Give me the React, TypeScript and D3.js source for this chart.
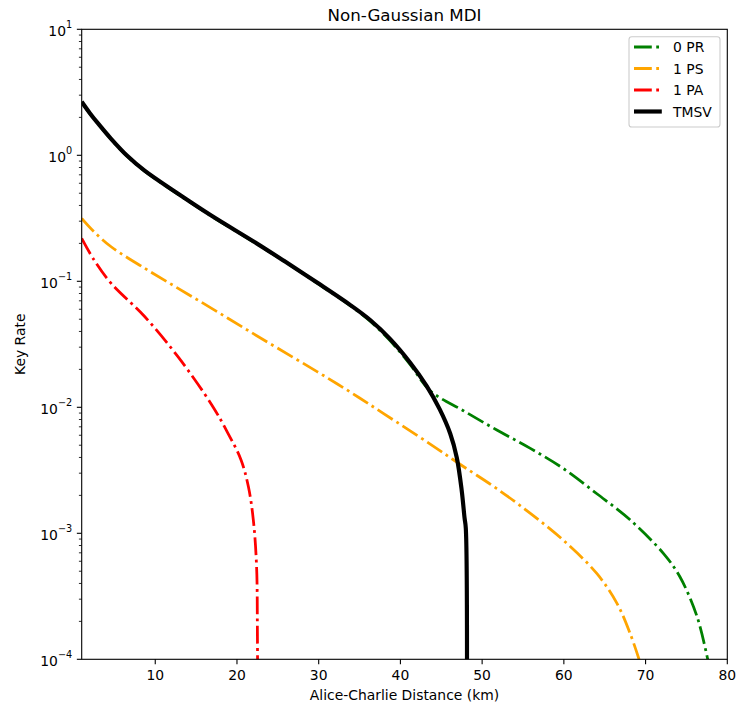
import React from "react";
import * as d3 from "d3";

// ---- data ----
const prDist = [1, 2, 3, 4.6, 6.5, 8.7, 12.8, 16.9, 22.2, 25.7, 29.8, 33.8, 36.3, 38.7, 41.2, 43.6, 47.7, 51.8, 55.9, 59.9, 64.0, 68.1, 72.2, 74.2, 76.3, 77.6];
const prRate = [2.64, 2.14, 1.78, 1.34, 0.99, 0.75, 0.49, 0.328, 0.202, 0.145, 0.0968, 0.0645, 0.0482, 0.034, 0.0218, 0.0136, 0.0094, 0.0066, 0.00472, 0.00328, 0.00207, 0.00128, 0.00069, 0.000452, 0.000218, 0.0001];

const psDist = [1, 2.5, 4.6, 8.7, 12.8, 16.9, 20.9, 25.0, 29.8, 33.8, 37.9, 43.6, 47.7, 51.8, 55.9, 59.9, 64.0, 66.5, 68.1, 69.2];
const psRate = [0.316, 0.248, 0.188, 0.127, 0.0879, 0.061, 0.0424, 0.0294, 0.0192, 0.0133, 0.00895, 0.00513, 0.00339, 0.00226, 0.00144, 0.000885, 0.000482, 0.000278, 0.000161, 0.0001];

const paDist = [1, 2.5, 4.6, 8.7, 12.8, 16.9, 18.9, 20.5, 21.4, 22.0, 22.4, 22.5, 22.55];
const paRate = [0.219, 0.148, 0.0964, 0.0525, 0.0251, 0.0105, 0.00622, 0.00382, 0.00234, 0.00128, 0.000543, 0.000163, 0.00001];

const tmsvDist = [1, 2, 3, 4.6, 6.5, 8.7, 12.8, 16.9, 22.2, 25.7, 29.8, 33.8, 36.3, 38.7, 41.2, 43.2, 44.8, 46.1, 46.9, 47.5, 47.85, 48.0, 48.05];
const tmsvRate = [2.66, 2.16, 1.79, 1.35, 1.0, 0.755, 0.495, 0.331, 0.204, 0.146, 0.0977, 0.0653, 0.0493, 0.0351, 0.0226, 0.0148, 0.00966, 0.00617, 0.00398, 0.00219, 0.00132, 0.0011, 0.000001];

const xTicks = [10, 20, 30, 40, 50, 60, 70, 80];
const yExponents = [-4, -3, -2, -1, 0, 1];

const seriesNames = ["0 PR", "1 PS", "1 PA", "TMSV"];
const seriesColors = ["green", "orange", "red", "black"];

const W = 736;
const H = 709;
const L = 81.7, R = 727.3, T = 29.3, B = 659.3;
const FONT = "DejaVu Sans, sans-serif";
const FS = 13.9;

export default function App() {
  const x = d3.scaleLinear().domain([1, 80]).range([L, R]);
  const y = d3.scaleLog().domain([1e-4, 10]).range([B, T]);
  const line = d3
    .line<[number, number]>()
    .x((d) => x(d[0]))
    .y((d) => y(d[1]))
    .curve(d3.curveCatmullRom.alpha(0.5));

  const zip = (a: number[], b: number[]) => a.map((v, i) => [v, b[i]] as [number, number]);
  const series = [
    zip(prDist, prRate),
    zip(psDist, psRate),
    zip(paDist, paRate),
    zip(tmsvDist, tmsvRate),
  ];

  const dashLw = 2.78;
  const dashArr = [6.4, 1.6, 1.0, 1.6].map((v) => v * dashLw).join(",");

  const minor: number[] = [];
  for (let e = -4; e < 1; e++) for (let m = 2; m <= 9; m++) minor.push(m * Math.pow(10, e));

  const tickLen = 4.86;
  const legX = 629, legY = 36.7, legW = 91, legH = 90.3;
  const legRow0 = 47, legStep = 21.5;

  return (
    <svg
      width={W}
      height={H}
      style={{ position: "absolute", left: 0, top: 0, display: "block", background: "white" }}
      fontFamily={FONT}
    >
      <defs>
        <clipPath id="plotclip">
          <rect x={L} y={T} width={R - L} height={B - T} />
        </clipPath>
      </defs>
      <rect x={0} y={0} width={W} height={H} fill="white" />

      <g clipPath="url(#plotclip)">
        {series.map((s, i) => (
          <path
            key={i}
            d={line(s) || ""}
            fill="none"
            stroke={seriesColors[i]}
            strokeWidth={i === 3 ? 4.17 : dashLw}
            strokeDasharray={i === 3 ? undefined : dashArr}
            strokeLinejoin="round"
          />
        ))}
      </g>

      {/* axes frame */}
      <rect x={L} y={T} width={R - L} height={B - T} fill="none" stroke="black" strokeWidth={1.1} />

      {/* x ticks */}
      {xTicks.map((t) => (
        <g key={t}>
          <line x1={x(t)} x2={x(t)} y1={B} y2={B + tickLen} stroke="black" strokeWidth={1.1} />
          <text x={x(t)} y={B + 20.5} textAnchor="middle" fontSize={FS} fill="black">
            {t}
          </text>
        </g>
      ))}

      {/* y ticks */}
      {yExponents.map((e) => {
        const yy = y(Math.pow(10, e));
        return (
          <g key={e}>
            <line x1={L - tickLen} x2={L} y1={yy} y2={yy} stroke="black" strokeWidth={1.1} />
            <text x={L - 9.5} y={yy + 6.3} textAnchor="end" fontSize={FS} fill="black">
              10
              <tspan dy={-7.2} fontSize={9.7}>
                {e < 0 ? "\u2212" + Math.abs(e) : String(e)}
              </tspan>
            </text>
          </g>
        );
      })}
      {minor.map((v, i) => (
        <line key={i} x1={L - 2.78} x2={L} y1={y(v)} y2={y(v)} stroke="black" strokeWidth={0.83} />
      ))}

      {/* labels */}
      <text x={(L + R) / 2} y={700} textAnchor="middle" fontSize={FS} fill="black">
        Alice-Charlie Distance (km)
      </text>
      <text
        transform={`translate(25,${(T + B) / 2}) rotate(-90)`}
        textAnchor="middle"
        fontSize={FS}
        fill="black"
      >
        Key Rate
      </text>
      <text x={(L + R) / 2} y={20.5} textAnchor="middle" fontSize={16.7} fill="black">
        Non-Gaussian MDI
      </text>

      {/* legend */}
      <rect x={legX} y={legY} width={legW} height={legH} rx={2.8} fill="white" fillOpacity={0.8} stroke="#cccccc" strokeWidth={1.1} />
      {seriesNames.map((n, i) => {
        const yy = legRow0 + i * legStep;
        return (
          <g key={n}>
            <line
              x1={634}
              x2={661.8}
              y1={yy}
              y2={yy}
              stroke={seriesColors[i]}
              strokeWidth={i === 3 ? 4.17 : dashLw}
              strokeDasharray={i === 3 ? undefined : dashArr}
            />
            <text x={673} y={yy + 5} fontSize={FS} fill="black">
              {n}
            </text>
          </g>
        );
      })}
    </svg>
  );
}
